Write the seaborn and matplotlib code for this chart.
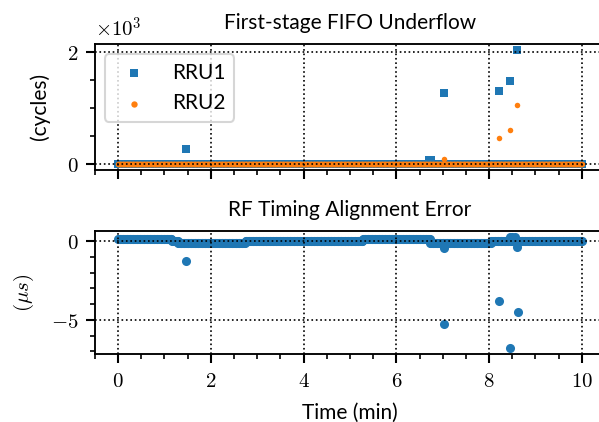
import numpy as np
import pandas as pd
import matplotlib
matplotlib.use("Agg")
import matplotlib.pyplot as plt
from matplotlib.ticker import MultipleLocator, FuncFormatter
import seaborn as sns

# One sample per second over the ten-minute capture
time_min = np.arange(0, 601) / 60.0

# First-stage FIFO underflow: every sample reads 0 cycles except these events
rru1_event_t = [1.46, 6.70, 6.74, 7.02, 8.22, 8.45, 8.61]
rru1_event_cycles = [259, 70, 70, 1261, 1304, 1472, 2036]
rru2_event_t = [7.02, 8.22, 8.45, 8.61]
rru2_event_cycles = [80, 468, 601, 1045]

# RF timing alignment error: steady levels (start, end, value in us) ...
level_start = [0.00, 1.16, 1.30, 2.75, 5.28, 6.72, 8.05, 8.32]
level_end = [1.16, 1.30, 2.75, 5.28, 6.72, 8.05, 8.32, 10.00]
level_us = [0.15, 0.00, -0.12, 0.00, 0.13, -0.10, 0.03, 0.00]
# ... plus isolated excursions
align_event_t = [1.46, 7.02, 7.02, 8.22, 8.45, 8.45, 8.50, 8.55, 8.61, 8.63]
align_event_us = [-1.25, -0.45, -5.27, -3.79, -6.81, 0.25, 0.30, 0.26, -0.33, -4.50]

BLUE = "#1f77b4"
ORANGE = "#ff7f0e"

sns.set_style("ticks")
plt.rcParams.update({
    "font.family": ["Lato", "DejaVu Sans"],
    "font.size": 10,
    "mathtext.fontset": "cm",
    "text.color": "black",
    "axes.labelcolor": "black",
    "axes.edgecolor": "black",
    "xtick.color": "black",
    "ytick.color": "black",
    "axes.axisbelow": False,
    "axes.linewidth": 0.9,
})

# Build the tables drawn by seaborn
zeros = np.zeros_like(time_min)
fifo_rru1 = pd.DataFrame({
    "time": np.concatenate([time_min, rru1_event_t]),
    "cycles": np.concatenate([zeros, rru1_event_cycles]),
})
fifo_rru2 = pd.DataFrame({
    "time": np.concatenate([time_min, rru2_event_t]),
    "cycles": np.concatenate([zeros, rru2_event_cycles]),
})

align_base = np.zeros_like(time_min)
for s, e, v in zip(level_start, level_end, level_us):
    align_base[(time_min >= s) & (time_min <= e)] = v
align = pd.DataFrame({
    "time": np.concatenate([time_min, align_event_t]),
    "err": np.concatenate([align_base, align_event_us]),
})

fig = plt.figure(figsize=(599 / 150, 422 / 150), dpi=150)
ax_top = fig.add_axes([0.1583, 0.5983, 0.8518, 0.2974])
ax_bot = fig.add_axes([0.1583, 0.1611, 0.8518, 0.2915], sharex=ax_top)

sns.scatterplot(data=fifo_rru1, x="time", y="cycles", ax=ax_top, marker="s",
                s=14, color=BLUE, linewidth=0, label="RRU1", legend=False)
sns.scatterplot(data=fifo_rru2, x="time", y="cycles", ax=ax_top, marker="o",
                s=7, color=ORANGE, linewidth=0, label="RRU2", legend=False)
sns.scatterplot(data=align, x="time", y="err", ax=ax_bot, marker="o",
                s=19, color=BLUE, linewidth=0, legend=False)

math_fmt = FuncFormatter(lambda v, p: f"${v:g}$")
kilo_fmt = FuncFormatter(lambda v, p: f"${v / 1000:g}$")

for ax in (ax_top, ax_bot):
    ax.set_xlim(-0.5, 10.5)
    ax.xaxis.set_major_locator(MultipleLocator(2))
    ax.xaxis.set_minor_locator(MultipleLocator(0.5))
    ax.grid(True, which="major", linestyle=":", color="black", linewidth=0.8)
    ax.tick_params(which="major", direction="out", length=4.5, width=1.0)
    ax.tick_params(which="minor", direction="out", length=2.5, width=0.8)
    sns.despine(ax=ax, top=False, right=False)

ax_top.yaxis.set_major_locator(MultipleLocator(2000))
ax_top.yaxis.set_minor_locator(MultipleLocator(500))
ax_top.yaxis.set_major_formatter(kilo_fmt)
ax_top.tick_params(axis="x", labelbottom=False)
ax_top.set_xlabel("")
ax_top.set_ylabel("(cycles)", labelpad=8)
ax_top.set_title("First-stage FIFO Underflow", fontsize=10, pad=7)
ax_top.text(0.0, 1.06, r"$\times10^3$", transform=ax_top.transAxes,
            ha="left", va="baseline", fontsize=10)
ax_top.legend(loc="upper left", fontsize=10, framealpha=0.8, markerscale=1.15)

ax_bot.yaxis.set_major_locator(MultipleLocator(5))
ax_bot.yaxis.set_minor_locator(MultipleLocator(1))
ax_bot.yaxis.set_major_formatter(math_fmt)
ax_bot.xaxis.set_major_formatter(math_fmt)
ax_bot.set_xlabel("Time (min)", labelpad=6)
ax_bot.set_ylabel(r"$(\mu s)$", labelpad=7)
ax_bot.set_title("RF Timing Alignment Error", fontsize=10, pad=7)

fig.savefig("out.png", dpi=150)
